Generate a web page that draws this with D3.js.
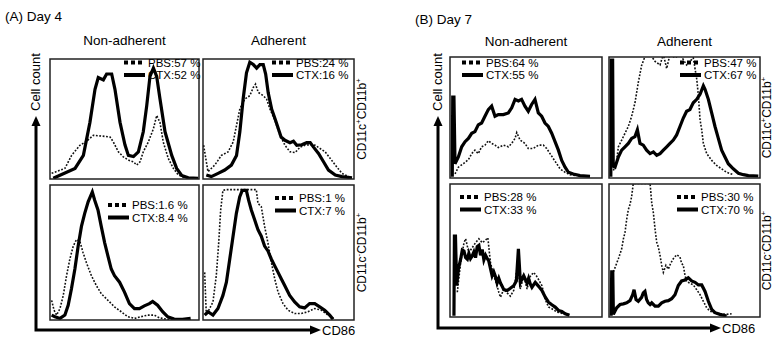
<!DOCTYPE html>
<html><head><meta charset="utf-8">
<script src="https://cdn.jsdelivr.net/npm/d3@7"></script>
<style>body{margin:0;background:#fff}svg{display:block;font-family:"Liberation Sans",Arial,sans-serif}</style>
</head><body><svg id="c" width="776" height="339"></svg>
<script>
// ---------- DATA (x: CD86 channel 0-100 across panel, y: cell count 0-100 of panel height) ----------
const sections = ["(A) Day 4", "(B) Day 7"];
const columns = ["Non-adherent", "Adherent"];
const seriesNames = ["PBS", "CTX"];

// Day 4, Non-adherent, CD11c+CD11b+
const d4NonPosPBS = [[1.1,4.8],[10,9],[14.5,20],[20.1,28.6],[24.6,32],[29.1,37],[34.7,36.4],[40.3,35.6],[42.5,31.4],[45.9,23],[49.2,18.8],[52.6,16],[56,14.6],[58.2,11.8],[60.4,14.6],[62.6,23],[66,31.4],[69.4,42.6],[71.6,53.8],[73.8,48],[76,31.4],[79.4,17.4],[82.8,9],[86.1,3.4],[90.6,1]];
const d4NonPosCTX = [[2.2,0.6],[16.8,9],[22.4,20],[26.8,48],[30.2,76],[32.4,86],[35.8,84],[38,89],[41.4,89],[43.6,76],[47,48],[50.3,29],[52.6,20],[56,19],[59.3,23],[62.6,40],[64.9,62],[67.1,87],[69.4,94],[71.6,87],[73.8,68],[77.2,40],[81.7,20],[85,9],[88.4,3],[92.8,1],[99.5,0.5]];
// Day 4, Adherent, CD11c+CD11b+
const d4AdhPosPBS = [[0.4,28.6],[3.3,6.2],[7.8,11.8],[12.2,20],[16.6,23],[20,31.4],[22.2,45.4],[24.4,59.4],[27.7,67.8],[31,70.6],[33.3,77.6],[34.8,80.4],[36.6,73.4],[39.9,70.6],[42.1,67.8],[44.3,59.4],[47.7,49.6],[51,37],[54.3,28.6],[57.6,23],[61,22.4],[64.3,27],[67.6,28.6],[71,29],[74.3,28.6],[77.6,25.8],[80.9,23],[84.3,17.4],[87.6,11.8],[92,4.8],[96.5,2]];
const d4AdhPosCTX = [[2.2,3.4],[5.5,2],[10,4.8],[14.4,7.6],[18.8,11.8],[22.2,20],[24.4,40],[26.6,68],[28.8,90],[31,99],[33.3,97],[35.5,94],[37.7,97],[39.9,97],[41.5,89],[43.2,73],[45.5,59],[47.7,51],[49.9,42.6],[51.7,35.6],[54.3,32.8],[57.6,30.8],[59.9,32],[62.1,28.6],[65.4,29],[68.7,30.8],[71,30.8],[73.2,27],[76.5,21.6],[79.8,14.6],[83.1,7.6],[87.6,3.4],[92,2],[98.7,1]];
// Day 4, Non-adherent, CD11c-CD11b+
const d4NonNegPBS = [[1.1,14.8],[2.7,7.4],[4.4,3.7],[6.7,8.6],[8.9,18.5],[11.1,33.3],[13.3,45.7],[15.6,55.6],[17.8,60.5],[20,59.3],[22.2,50.6],[24.4,43.2],[27.8,33.3],[31.1,25.9],[34.4,19.8],[38.9,14.8],[43.3,9.9],[47.8,6.2],[52.2,2.5],[56.7,1.2],[61.1,2.5],[65.6,3.7],[70,3.7],[73.3,1.7],[77.8,0.7],[84.4,0.5]];
const d4NonNegCTX = [[1.1,3.7],[3.3,2.5],[6.7,1.2],[10,3.7],[12.2,11.1],[14.4,23.5],[16.7,38.3],[18.9,55.6],[21.1,70.4],[23.3,80.2],[25.6,88.9],[28.4,96.3],[30,90.1],[32.2,82.7],[34.4,70.4],[36.7,58],[38.9,48.1],[41.1,38.3],[43.3,33.3],[46.7,28.4],[50,21],[53.3,12.3],[56.7,8.6],[60,8.6],[63.3,10.6],[66.7,12.3],[68.9,14],[72.2,11.1],[75.6,6.2],[78.9,2.5],[83.3,0.7],[88.9,0.5],[94.4,1.2]];
// Day 4, Adherent, CD11c-CD11b+
const d4AdhNegPBS = [[1.1,35.8],[2.2,3.7],[4.4,8.6],[6.6,13.6],[8.8,33.3],[10.4,58],[11.7,82.7],[13.2,97.5],[15.5,98],[27.6,98],[35.3,98],[36.4,87.7],[38.6,85.2],[40.8,70.4],[43,58],[45.3,43.2],[47.5,30.9],[49.7,21],[53,12.3],[56.3,7.4],[60.7,4.9],[65.1,4.9],[69.5,6.2],[74,8.6],[78.4,7.4],[82.8,3.7],[87.2,0.7]];
const d4AdhNegCTX = [[1.1,3.7],[3.3,6.2],[6.6,3.7],[9.9,8.6],[13.2,18.5],[15.5,28.4],[17.7,45.7],[19.9,63],[22.1,80.2],[24.3,92.6],[26,97.5],[28.7,97.5],[30.2,90.1],[32,82.7],[34.2,75.3],[36.4,67.9],[38.6,63],[40.8,55.6],[43,51.9],[45.3,45.7],[47.5,40.7],[49.7,35.8],[51.9,30.9],[54.1,25.9],[57.4,18.5],[60.7,13.6],[64,9.9],[67.3,9.1],[70.6,12.3],[74,12.3],[77.3,9.9],[80.6,7.4],[83.9,3.7],[86.1,0.5]];

// Day 7, Non-adherent, CD11c+CD11b+
const d7NonPosPBS = [[3.3,3.4],[5.5,9.1],[8.8,12],[12.1,15.4],[14.3,20.5],[16.4,23.4],[18.6,20.5],[20.8,26.2],[23,27.6],[25.2,31.3],[27.4,29.1],[29.6,27.6],[31.8,25.6],[35.1,27.6],[38.4,26.2],[40.6,29.1],[42.8,33.3],[43.9,38.2],[46.1,31.9],[49.3,29.1],[51.5,24.8],[54.8,24.8],[58.1,27.6],[61.4,27.6],[63.6,24.8],[65.8,20.5],[68,16.2],[70.2,12],[72.4,7.7],[75.7,4.8],[78.9,2.8],[83.3,2]];
const d7NonPosCTX = [[1.5,1],[1.8,68],[2.6,68],[3.3,12],[5.5,17.7],[7.7,26.2],[9.9,30.5],[12.1,33.3],[14.3,37.6],[16.4,39],[18.6,44.7],[20.8,46.2],[23,51.9],[25.2,57.5],[27.4,60.4],[29.6,51.9],[31.8,53.3],[35.1,53.3],[38.4,54.7],[40.6,59],[42.8,66.1],[45,64.7],[47.1,66.1],[49.3,60.4],[51.5,56.1],[53.7,61.8],[55.9,66.1],[58.1,54.7],[60.3,51.9],[62.5,46.2],[64.7,43.3],[66.9,37.6],[69.1,30.5],[71.3,23.4],[73.5,14.8],[75.7,9.1],[77.9,4.8],[81.1,3.4],[85.5,2],[92.1,1.4]];
// Day 7, Adherent, CD11c+CD11b+
const d7AdhPosPBS = [[2.9,6.3],[5.1,14.8],[6.2,26.2],[8.4,31.9],[10.6,37.6],[12.8,43.3],[15,51.9],[17.2,63.2],[19.4,80.3],[21.6,94.6],[23.8,102],[27.2,104],[30.5,98],[33.8,95],[36,104],[38.2,92],[40.4,104],[43.7,101],[47,104],[51.4,95],[55.8,101],[58.1,83.2],[59.2,69],[60.3,49],[61.4,40.5],[62.5,29],[64.7,20.5],[68,14.8],[71.3,10.5],[74.6,7.7],[77.9,4.8],[82.3,2.8]];
const d7AdhPosCTX = [[1.2,1],[1.5,99],[2.4,99],[2.8,10],[4,9.1],[6.2,17.7],[8.4,23.4],[10.6,26.2],[12.8,29.1],[15,33.3],[17.2,34.8],[18.8,40.5],[20.5,29.1],[22.7,27.6],[24.9,23.4],[27.2,20.5],[29.4,21.9],[31.6,19.1],[33.8,20.5],[36,23.4],[38.2,26.2],[40.4,29.1],[42.6,31.9],[44.8,36.2],[47,43.3],[49.2,50.4],[51.4,56.1],[53.6,57.5],[55.8,63.2],[58.1,66.1],[60.3,70.4],[62.5,77.5],[63.6,74.6],[65.8,66.1],[68,54.7],[70.2,43.3],[72.4,33.3],[74.6,23.4],[76.8,17.7],[79,12],[82.3,7.7],[85.7,4],[89,2.8],[92.3,2],[98.9,1.7]];
// Day 7, Non-adherent, CD11c-CD11b+
const d7NonNegPBS = [[4.8,18.9],[7,41.6],[9.2,56.7],[10.3,59.7],[12.4,49.1],[14.6,52.9],[16.8,56.7],[19,59.7],[21.2,56.7],[23.4,58.7],[24.9,60.5],[26.6,41.6],[28.8,31.5],[31,23.9],[32.1,18.9],[33.2,15.1],[35.4,21.4],[37.6,18.4],[39.7,15.9],[41.9,20.2],[43.7,34],[44.5,40.3],[46.3,21.4],[48.5,31.5],[50.7,21.4],[52.8,31],[55,34],[56.8,31.5],[58.3,28.5],[60.5,23.9],[62.7,13.4],[64.8,7.6],[67,6.3],[70.3,3.8],[74.7,2.5],[79,1.8]];
const d7NonNegCTX = [[2.6,1],[2.9,61.7],[3.6,61.7],[4.4,23.9],[5.5,36.5],[7,44.1],[8.1,51.1],[9.2,50.4],[10.3,45.3],[11.4,44.1],[12.4,48.6],[13.5,44.6],[14.6,46.6],[15.7,49.6],[16.8,45.3],[17.9,53.7],[19,54.7],[20.1,47.1],[21.2,51.6],[22.3,43.6],[23.4,47.1],[24.5,44.6],[25.5,42.8],[26.6,37],[27.7,31.5],[28.8,34.5],[29.9,31],[31,25.9],[32.1,29.5],[33.2,25.9],[34.3,23.4],[35.4,20.9],[37.6,20.2],[39.7,21.9],[41.9,23.9],[43.7,27.7],[45,52.1],[46.3,26.4],[48.5,31.5],[50.7,25.9],[51.7,29.5],[52.8,25.2],[53.9,22.7],[56.1,26.4],[58.3,23.4],[60.5,20.2],[62.7,15.1],[64.8,11.3],[67,9.3],[69.2,7.6],[71.4,5],[73.6,4.3],[75.8,2.5],[78.6,1.3]];
// Day 7, Adherent, CD11c-CD11b+
const d7AdhNegPBS = [[2.9,34.5],[4.6,39.5],[6.2,44.5],[8.4,52],[9.5,59.5],[10.6,64.5],[11.7,74.5],[12.8,82],[13.9,85.8],[15,92],[16.1,102],[27.2,102],[28.3,87],[29.4,79.5],[30.5,67],[31.6,57],[32.7,53.3],[33.8,47],[34.9,39.5],[36,34],[37.7,39.5],[39.3,36.5],[40.8,40.8],[42.6,44.5],[44.8,47.5],[47,45.8],[48.1,40.8],[49.2,39.5],[50.3,32],[51.4,27],[53.6,25.8],[55.8,24.5],[58.1,20.8],[60.3,17],[62.5,12],[64.7,7],[66.9,4.5],[71.3,2.5],[77.9,2],[81.2,2.5]];
const d7AdhNegCTX = [[1.4,1],[1.8,34.5],[2.5,34.5],[2.9,2],[5.1,7],[7.3,9.5],[9.5,10],[11.7,10.8],[13.9,12.5],[15.7,17],[16.6,20.8],[17.9,13.3],[19.4,12],[21.6,15],[22.7,18.3],[23.8,19.5],[24.9,13.3],[26,10.8],[27.2,9.5],[28.3,10.8],[30.5,8.3],[32.7,8.3],[34.9,10.8],[37.1,12],[39.3,12.5],[41.5,14],[43.7,17],[45.9,24],[48.1,27.5],[50.3,28.3],[52.5,30],[54.7,27.5],[57,26.5],[59.2,24.5],[61.4,24.5],[63.6,19.5],[65.8,12],[68,5.8],[70.2,3.3],[73.5,2],[77.9,0.8]];

// legend percentages, order: A-NonPos, A-AdhPos, A-NonNeg, A-AdhNeg, B-NonPos, B-AdhPos, B-NonNeg, B-AdhNeg
const pbsPercent = ["57", "24", "1.6", "1", "64", "47", "28", "30"];
const ctxPercent = ["52", "16", "8.4", "7", "55", "67", "33", "70"];

// ---------- LAYOUT ----------
const svg = d3.select("#c");
const defs = svg.append("defs");

const sectionLayout = [
  {title:[5,21], colX:[[50,199],[203,354]], rowY:[[59,179],[185,320]], axisX:36, axisY:330, arrowTop:116, arrowRight:321,
   colTitleY:45, rightLabelX:366,
   legends:[[124,62.5],[272,62.5],[108,205],[275,198]]},
  {title:[415,24], colX:[[450,602],[609,760]], rowY:[[57,178],[184,317]], axisX:438, axisY:328, arrowTop:116, arrowRight:721,
   colTitleY:46, rightLabelX:771,
   legends:[[462,62.5],[680,62.5],[460,197],[677,197]]}
];
const panelData = [
  [[d4NonPosPBS,d4NonPosCTX],[d4AdhPosPBS,d4AdhPosCTX],[d4NonNegPBS,d4NonNegCTX],[d4AdhNegPBS,d4AdhNegCTX]],
  [[d7NonPosPBS,d7NonPosCTX],[d7AdhPosPBS,d7AdhPosCTX],[d7NonNegPBS,d7NonNegCTX],[d7AdhNegPBS,d7AdhNegCTX]]
];

sectionLayout.forEach((L, s) => {
  const g = svg.append("g");
  g.append("text").attr("x", L.title[0]).attr("y", L.title[1]).attr("font-size", 13.5).text(sections[s]);
  columns.forEach((c, ci) => {
    g.append("text").attr("x", (L.colX[ci][0] + L.colX[ci][1]) / 2).attr("y", L.colTitleY)
      .attr("text-anchor", "middle").attr("font-size", 13.5).text(c);
  });
  for (let r = 0; r < 2; r++) {
    for (let ci = 0; ci < 2; ci++) {
      const k = r * 2 + ci;
      const [x0, x1] = L.colX[ci], [y0, y1] = L.rowY[r];
      const x = d3.scaleLinear().domain([0, 100]).range([x0, x1]);
      const y = d3.scaleLinear().domain([0, 100]).range([y1, y0 + 2]);
      const cid = `clip${s}_${k}`;
      defs.append("clipPath").attr("id", cid).append("rect")
        .attr("x", x0).attr("y", y0).attr("width", x1 - x0).attr("height", y1 - y0);
      const line = d3.line().x(d => x(d[0])).y(d => y(d[1]));
      const pg = g.append("g").attr("clip-path", `url(#${cid})`);
      const [pbs, ctx] = panelData[s][k];
      pg.append("path").datum(pbs).attr("d", line).attr("fill", "none").attr("stroke", "#111")
        .attr("stroke-width", 1.6).attr("stroke-dasharray", "1.8,1.6");
      pg.append("path").datum(ctx).attr("d", line).attr("fill", "none").attr("stroke", "#000")
        .attr("stroke-width", 3.2).attr("stroke-linejoin", "miter");
      g.append("rect").attr("x", x0).attr("y", y0).attr("width", x1 - x0).attr("height", y1 - y0)
        .attr("fill", "none").attr("stroke", "#222").attr("stroke-width", 1.5);
      const [lx, ly] = L.legends[k];
      const pi = s * 4 + k;
      g.append("line").attr("x1", lx).attr("x2", lx + 20).attr("y1", ly).attr("y2", ly)
        .attr("stroke", "#000").attr("stroke-width", 4).attr("stroke-dasharray", "4,3");
      g.append("line").attr("x1", lx).attr("x2", lx + 21).attr("y1", ly + 12.5).attr("y2", ly + 12.5)
        .attr("stroke", "#000").attr("stroke-width", 4);
      g.append("text").attr("x", lx + 24).attr("y", ly + 4).attr("font-size", 11.5)
        .text(`${seriesNames[0]}:${pbsPercent[pi]} %`);
      g.append("text").attr("x", lx + 24).attr("y", ly + 16.5).attr("font-size", 11.5)
        .text(`${seriesNames[1]}:${ctxPercent[pi]} %`);
    }
    const cy = (L.rowY[r][0] + L.rowY[r][1]) / 2;
    const t = g.append("text").attr("transform", `translate(${L.rightLabelX},${cy}) rotate(-90)`)
      .attr("text-anchor", "middle").attr("font-size", 12);
    t.append("tspan").text("CD11c");
    t.append("tspan").attr("font-size", 8).attr("dy", -5).text(r === 0 ? "+" : "-");
    t.append("tspan").attr("dy", 5).text("CD11b");
    t.append("tspan").attr("font-size", 8).attr("dy", -5).text("+");
  }
  g.append("path").attr("d", `M${L.axisX},${L.arrowTop + 8}V${L.axisY}H${L.arrowRight - 9}`)
    .attr("fill", "none").attr("stroke", "#000").attr("stroke-width", 3);
  g.append("path").attr("d", `M${L.axisX - 4.5},${L.arrowTop + 10}L${L.axisX},${L.arrowTop}L${L.axisX + 4.5},${L.arrowTop + 10}Z`).attr("fill", "#000");
  g.append("path").attr("d", `M${L.arrowRight - 11},${L.axisY - 4.5}L${L.arrowRight},${L.axisY}L${L.arrowRight - 11},${L.axisY + 4.5}Z`).attr("fill", "#000");
  g.append("text").attr("x", L.arrowRight + 1).attr("y", L.axisY + 4.5).attr("font-size", 13).text("CD86");
  g.append("text").attr("transform", `translate(${L.axisX + 4},${L.arrowTop - 34}) rotate(-90)`)
    .attr("text-anchor", "middle").attr("font-size", 13).text("Cell count");
});
</script></body></html>
